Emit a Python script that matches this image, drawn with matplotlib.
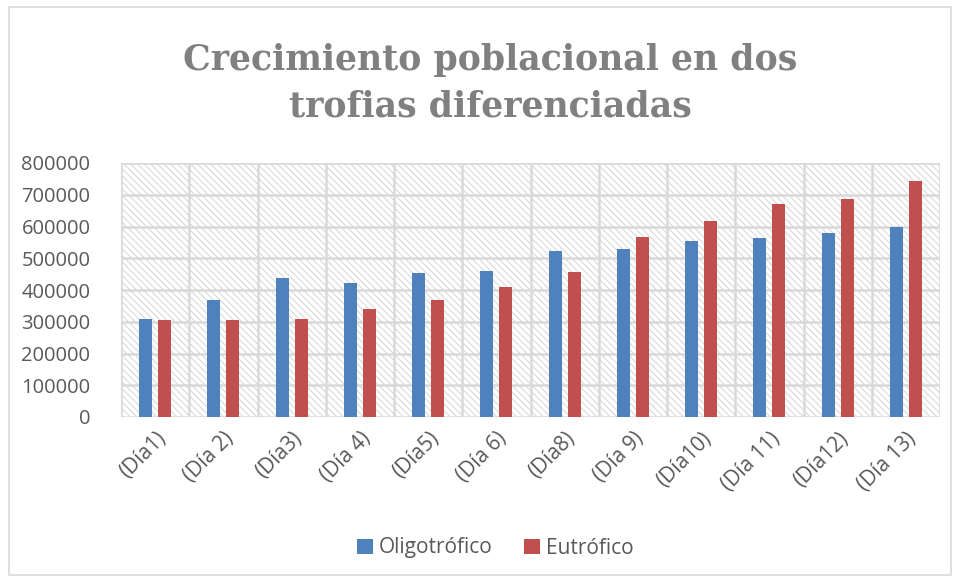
import matplotlib.pyplot as plt
import matplotlib.patches as patches
import numpy as np

# data
dias = ['(Día1)', '(Día 2)', '(Día3)', '(Día 4)', '(Día5)', '(Día 6)',
        '(Día8)', '(Día 9)', '(Día10)', '(Día 11)', '(Día12)', '(Día 13)']
oligotrofico = [310000, 368000, 437000, 423000, 452000, 461000,
                524000, 529000, 554000, 564000, 579000, 597000]
eutrofico = [304000, 305000, 308000, 339000, 367000, 411000,
             458000, 567000, 617000, 670000, 688000, 744000]
y_ticks = [0, 100000, 200000, 300000, 400000, 500000, 600000, 700000, 800000]

blue = '#4F81BD'
red = '#C0504D'
grid = '#D9D9D9'
txt = '#595959'

plt.rcParams['hatch.linewidth'] = 0.7
plt.rcParams['hatch.color'] = '#D4D4D4'

fig = plt.figure(figsize=(9.56, 5.82), dpi=100)
ax = fig.add_axes([121/956, 1 - 417/582, 819/956, 254/582])

# chart area border
fig.patches.append(patches.Rectangle((9/956, 7/582), 942/956, 568/582,
                                     transform=fig.transFigure, fill=False,
                                     edgecolor=grid, linewidth=1.2))

x = np.arange(len(dias))
off = 0.14
w = 0.19
ax.bar(x - off, oligotrofico, w, color=blue, label='Oligotrófico', zorder=3)
ax.bar(x + off, eutrofico, w, color=red, label='Eutrófico', zorder=3)

ax.set_xlim(-0.5, len(dias) - 0.5)
ax.set_ylim(0, 800000)

# hatched plot area
ax.add_patch(patches.Rectangle((0, 0), 1, 1, transform=ax.transAxes,
                               facecolor='white', hatch='\\\\\\\\\\',
                               edgecolor='#D4D4D4', linewidth=0, zorder=0))

for yv in y_ticks:
    ax.axhline(yv, color=grid, linewidth=1.8, zorder=1)
for xv in np.arange(-0.5, len(dias), 1):
    ax.axvline(xv, color=grid, linewidth=1.8, zorder=1)

for s in ax.spines.values():
    s.set_visible(False)

ax.set_yticks(y_ticks)
ax.set_yticklabels([str(v) for v in y_ticks], fontsize=14.5,
                   fontfamily='Open Sans', color=txt)
ax.set_xticks(x)
ax.set_xticklabels(dias, rotation=45, ha='right', rotation_mode='anchor',
                   fontsize=15, fontfamily='Open Sans', color=txt)
ax.tick_params(length=0, axis='y', pad=22)
ax.tick_params(length=0, axis='x', pad=8)

fig.text(0.513, 1 - 83/582, 'Crecimiento poblacional en dos\ntrofias diferenciadas',
         ha='center', va='center', fontsize=25, fontweight='bold',
         fontfamily='DejaVu Serif', color='#808080', linespacing=1.45)

leg = fig.legend(loc='center', bbox_to_anchor=(0.518, 1 - 548/582), ncol=2,
                 frameon=False, handlelength=0.75,
                 handleheight=0.75, handletextpad=0.3, columnspacing=1.5,
                 prop={'family': 'Open Sans', 'size': 15})
for t in leg.get_texts():
    t.set_color(txt)

fig.savefig('out.png', dpi=100, facecolor='white')
